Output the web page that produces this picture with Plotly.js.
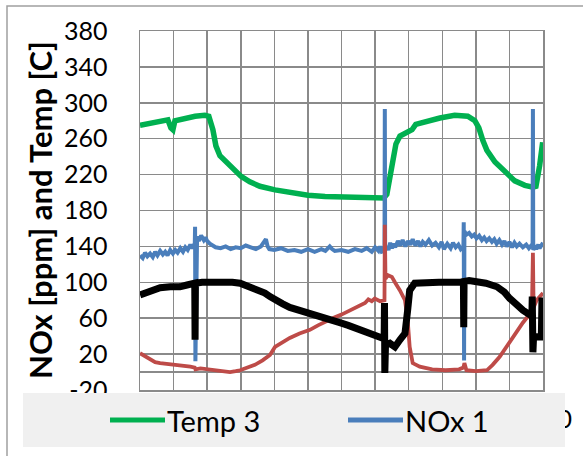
<!DOCTYPE html>
<html>
<head>
<meta charset="utf-8">
<script src="https://cdn.plot.ly/plotly-3.0.1.min.js"></script>
<style>html,body{margin:0;padding:0;background:#fff;}#chart{width:583px;height:456px;}</style>
</head>
<body>
<div id="chart"></div>
<script>
// ---- data (x in sample units, y in ppm / C) ----
var tempX = [0,30,60,83,92,98,104,134,164,193,205,217,226,238,268,301,327,357,402,446,500,551,601,640,670,702,726,735,744,753,762,774,789,800,810,821,848,893,937,958,976,997,1009,1021,1033,1057,1086,1116,1146,1170,1179,1184,1190,1199];
var tempY = [275,277,279,281,272,270,280,283,285,286,285,270,252,241,229,218,212,207,203,200,197,195.5,195,196,195,194,194,198,220,240,254,263,266,267,270,276,279,283,286,285,285,280,272,258,247,234,223,213,208,206,207,215,230,256];

var nox1X = [0,8,15,22,30,38,45,52,60,68,75,82,90,98,105,112,120,128,135,142,150,156,160,163,164,165,170,175,182,190,195,200,208,215,225,240,255,270,285,300,315,330,345,360,368,375,380,385,400,420,440,460,480,500,520,540,552,565,572,580,600,620,640,660,675,690,700,710,715,720,728,729,730,735,740,745,750,755,760,768,775,782,790,798,805,812,820,828,835,842,850,860,870,880,890,898,905,915,925,932,940,948,955,963,964,965,966,972,980,988,995,1002,1010,1018,1025,1032,1040,1048,1055,1062,1070,1078,1085,1092,1100,1108,1115,1122,1130,1140,1150,1158,1165,1169,1170,1171,1176,1180,1186,1190,1195,1200];
var nox1Y = [130,127,133,129,132,128,134,130,135,131,134,130,136,132,136,133,138,134,139,136,142,138,141,140,162,12,151,146,152,147,150,146,143,141,139,138,140,137,139,138,141,139,137,140,144,148,140,137,136,138,135,136,134,137,134,137,135,140,137,135,136,134,137,135,138,134,139,135,140,134,135,293,136,140,136,144,138,143,139,146,141,147,140,146,142,148,141,146,140,145,142,147,141,144,139,145,137,143,138,144,139,142,137,140,167,13,157,153,155,151,153,149,152,147,150,146,149,145,148,143,147,142,146,140,145,139,144,140,143,139,142,138,141,140,293,136,141,137,142,138,141,144];

var nox2X = [0,15,30,45,60,90,120,150,163,165,180,200,225,250,268,285,298,320,342,365,387,402,425,446,475,506,530,551,580,600,625,650,670,680,690,699,715,728,729,731,738,750,759,774,789,797,803,812,833,870,910,950,963,966,972,1000,1033,1050,1071,1090,1110,1125,1140,1155,1167,1170,1172,1181,1190,1200];
var nox2Y = [21,18,14,11,10,9,8,6,5,3,4,3,2,1,0,1,2,5,8,13,19,28,33,38,43,47,52,56,61,64,69,73,77,81,79,82,79,80,164,104,108,106,100,91,80,58,28,10,6,3,2,3,5,10,2,1,2,8,17,28,39,47,55,62,69,133,72,80,84,88];

var nox3X = [0,30,60,90,119,140,163,164,165,185,208,230,253,275,298,320,342,357,372,387,402,425,446,475,506,530,551,575,595,620,640,665,684,700,714,727,728,729,731,744,759,774,789,797,803,818,848,890,930,963,964,965,980,1030,1063,1085,1101,1120,1140,1160,1167,1168,1170,1172,1185,1195,1197,1199,1200];
var nox3Y = [86,91,94,95,95,97,99,36,99,100,100,101,101,100,99,96,94,91,88,84,80,76,72,69,66,63,60,58,55,52,49,45,42,40,38,37,77,-1,30,32,28,36,43,69,91,99,100,100,100,100,50,101,102,99,95,89,82,75,69,64,63,84,22,40,39,39,83,40,40];

var seriesNames = ['Temp 3', 'NOx 1', 'NOx 2', 'NOx 3'];
var yTitle = 'NOx [ppm] and Temp [C]';
var yTicks = [-20, 20, 60, 100, 140, 180, 220, 260, 300, 340, 380];
var xTicks = [0,200,400,600,800,1000,1200];
// only the last x label peeks out beside the legend box in the original
var xTickText = ['', '', '', '', '', '', '1200'];

var FONT = 'Lato, "Open Sans", "Liberation Sans", sans-serif';
var GRID = '#8a8a8a';

var traces = [
  {x: tempX, y: tempY, name: seriesNames[0], type: 'scatter', mode: 'lines', line: {color: '#00b050', width: 5.5}},
  {x: nox1X, y: nox1Y, name: seriesNames[1], type: 'scatter', mode: 'lines', line: {color: '#4a7ebb', width: 4}},
  {x: nox2X, y: nox2Y, name: seriesNames[2], type: 'scatter', mode: 'lines', line: {color: '#be4b48', width: 3.8}},
  {x: nox3X, y: nox3Y, name: seriesNames[3], type: 'scatter', mode: 'lines', line: {color: '#000000', width: 7}}
];

var L = 140, R = 543, T = 31, B = 390;
function px(x){ return (x - L) / (R - L); }
function py(y){ return (B - y) / (B - T); }

var layout = {
  width: 583, height: 456,
  margin: {l: 140, r: 40, t: 31, b: 66, pad: 0},
  paper_bgcolor: '#ffffff', plot_bgcolor: '#ffffff',
  showlegend: false,
  font: {family: FONT, color: '#000000'},
  xaxis: {
    range: [0, 1200], tickvals: xTicks, ticktext: xTickText, tickangle: 0,
    showgrid: true, gridcolor: GRID, gridwidth: 1.5,
    minor: {dtick: 100, tick0: 0, showgrid: true, gridcolor: GRID, gridwidth: 1.5, ticks: ''},
    showline: true, linecolor: GRID, linewidth: 1.5, mirror: true,
    zeroline: false, ticks: '', ticklabelstandoff: 6,
    tickfont: {family: FONT, size: 25, color: '#000'}
  },
  yaxis: {
    range: [-20, 380], tickvals: yTicks, ticktext: yTicks.map(String),
    showgrid: true, gridcolor: GRID, gridwidth: 1.5,
    showline: true, linecolor: GRID, linewidth: 1.5, mirror: true,
    zeroline: true, zerolinecolor: GRID, zerolinewidth: 1.5,
    ticks: '', ticklabelstandoff: 26,
    tickfont: {family: FONT, size: 25, color: '#000'}
  },
  shapes: [
    {type: 'rect', xref: 'paper', yref: 'paper', x0: px(7), x1: px(620), y0: py(500), y1: py(6),
     line: {color: '#a0a0a0', width: 1.5}, fillcolor: 'rgba(0,0,0,0)', layer: 'below'},
    {type: 'rect', xref: 'paper', yref: 'paper', x0: px(23), x1: px(565), y0: py(447), y1: py(393),
     line: {width: 0}, fillcolor: '#f0f0f0', layer: 'above'},
    {type: 'line', xref: 'paper', yref: 'paper', x0: px(110), x1: px(165), y0: py(420), y1: py(420),
     line: {color: '#00b050', width: 5}, layer: 'above'},
    {type: 'line', xref: 'paper', yref: 'paper', x0: px(348), x1: px(403), y0: py(420), y1: py(420),
     line: {color: '#4a7ebb', width: 5}, layer: 'above'}
  ],
  annotations: [
    {xref: 'paper', yref: 'paper', x: px(40), y: py(210), text: '<b>' + yTitle + '</b>', textangle: -90,
     showarrow: false, xanchor: 'center', yanchor: 'middle', font: {family: FONT, size: 31, color: '#000'}},
    {xref: 'paper', yref: 'paper', x: px(165), y: py(420), text: seriesNames[0],
     showarrow: false, xanchor: 'left', yanchor: 'middle', font: {family: FONT, size: 29, color: '#000'}},
    {xref: 'paper', yref: 'paper', x: px(403), y: py(420), text: seriesNames[1],
     showarrow: false, xanchor: 'left', yanchor: 'middle', font: {family: FONT, size: 29, color: '#000'}}
  ]
};

Plotly.newPlot('chart', traces, layout, {staticPlot: true, displayModeBar: false});
</script>
</body>
</html>
